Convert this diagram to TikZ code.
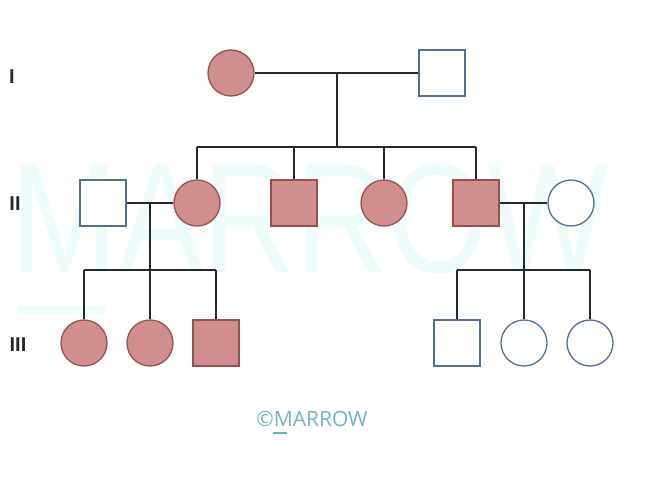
\documentclass[tikz,border=0pt]{standalone}
\usepackage{fontspec}
\newfontfamily\wmfont{Liberation Sans}
\newfontfamily\logofont{Open Sans}
\usetikzlibrary{calc}

\definecolor{affected}{RGB}{208,142,142}
\definecolor{affborder}{RGB}{150,80,80}
\definecolor{unaffborder}{RGB}{80,112,150}
\definecolor{linecol}{RGB}{40,40,40}
\definecolor{wmcol}{RGB}{238,251,251}
\definecolor{logocol}{RGB}{110,180,196}

\tikzset{
    aff/.style={fill=affected, draw=affborder, line width=1.3pt},
    unaff/.style={fill=white, draw=unaffborder, line width=1.3pt},
    male/.style={rectangle, minimum size=46pt, inner sep=0pt},
    female/.style={circle, minimum size=46pt, inner sep=0pt},
    link/.style={draw=linecol, line width=1.6pt},
    gen/.style={font=\wmfont\bfseries\fontsize{20}{20}\selectfont, text=linecol, inner sep=0pt}
}

\begin{document}
\begin{tikzpicture}[x=1pt, y=-1pt]
        \useasboundingbox (0,0) rectangle (671,481);

        % watermark
        \node[text=wmcol, inner sep=0pt, xscale=0.82] (wm) at (310,219)
            {\wmfont\fontsize{156}{156}\selectfont MARROW};
        \fill[wmcol] (17,306) rectangle (105,314);

        % generation labels
        \node[gen] (lI) at (12,77) {I};
        \node[gen] (lII) at (15,204) {II};
        \node[gen] (lIII) at (18,345) {III};

        % generation I
        \node[female, aff] (gma) at (231,73) {};
        \node[male, unaff] (gpa) at (442,73) {};
        \coordinate (m1) at (337,73);
        \coordinate (s1) at (337,147);

        % generation II
        \node[male, unaff] (ha) at (103,203) {};
        \node[female, aff] (hb) at (197,203) {};
        \node[male, aff] (hc) at (294,203) {};
        \node[female, aff] (hd) at (384,203) {};
        \node[male, aff] (he) at (476,203) {};
        \node[female, unaff] (hf) at (571,203) {};
        \coordinate (m2) at (150,203);
        \coordinate (s2) at (150,270);
        \coordinate (m3) at (524,203);
        \coordinate (s3) at (524,270);

        % generation III
        \node[female, aff] (ka) at (84,343) {};
        \node[female, aff] (kb) at (150,343) {};
        \node[male, aff] (kc) at (216,343) {};
        \node[male, unaff] (kd) at (457,343) {};
        \node[female, unaff] (ke) at (524,343) {};
        \node[female, unaff] (kf) at (590,343) {};

        % lines
        \draw[link] (gma) -- (gpa);
        \draw[link] (m1) -- (s1);
        \draw[link] (hb |- s1) -- (he |- s1);
        \foreach \k in {hb, hc, hd, he}{
            \draw[link] (\k.north) -- (\k |- s1);
        }

        \draw[link] (ha) -- (hb);
        \draw[link] (m2) -- (s2);
        \draw[link] (ka |- s2) -- (kc |- s2);
        \foreach \k in {ka, kb, kc}{
            \draw[link] (\k.north) -- (\k |- s2);
        }

        \draw[link] (he) -- (hf);
        \draw[link] (m3) -- (s3);
        \draw[link] (kd |- s3) -- (kf |- s3);
        \foreach \k in {kd, ke, kf}{
            \draw[link] (\k.north) -- (\k |- s3);
        }

        % logo
        \node[text=logocol, inner sep=0pt] (logo) at (312,419)
            {\logofont\fontsize{21}{21}\selectfont \textcopyright MARROW};
        \draw[logocol, line width=1.5pt] (273,433) -- (287,433);
    \end{tikzpicture}
\end{document}
